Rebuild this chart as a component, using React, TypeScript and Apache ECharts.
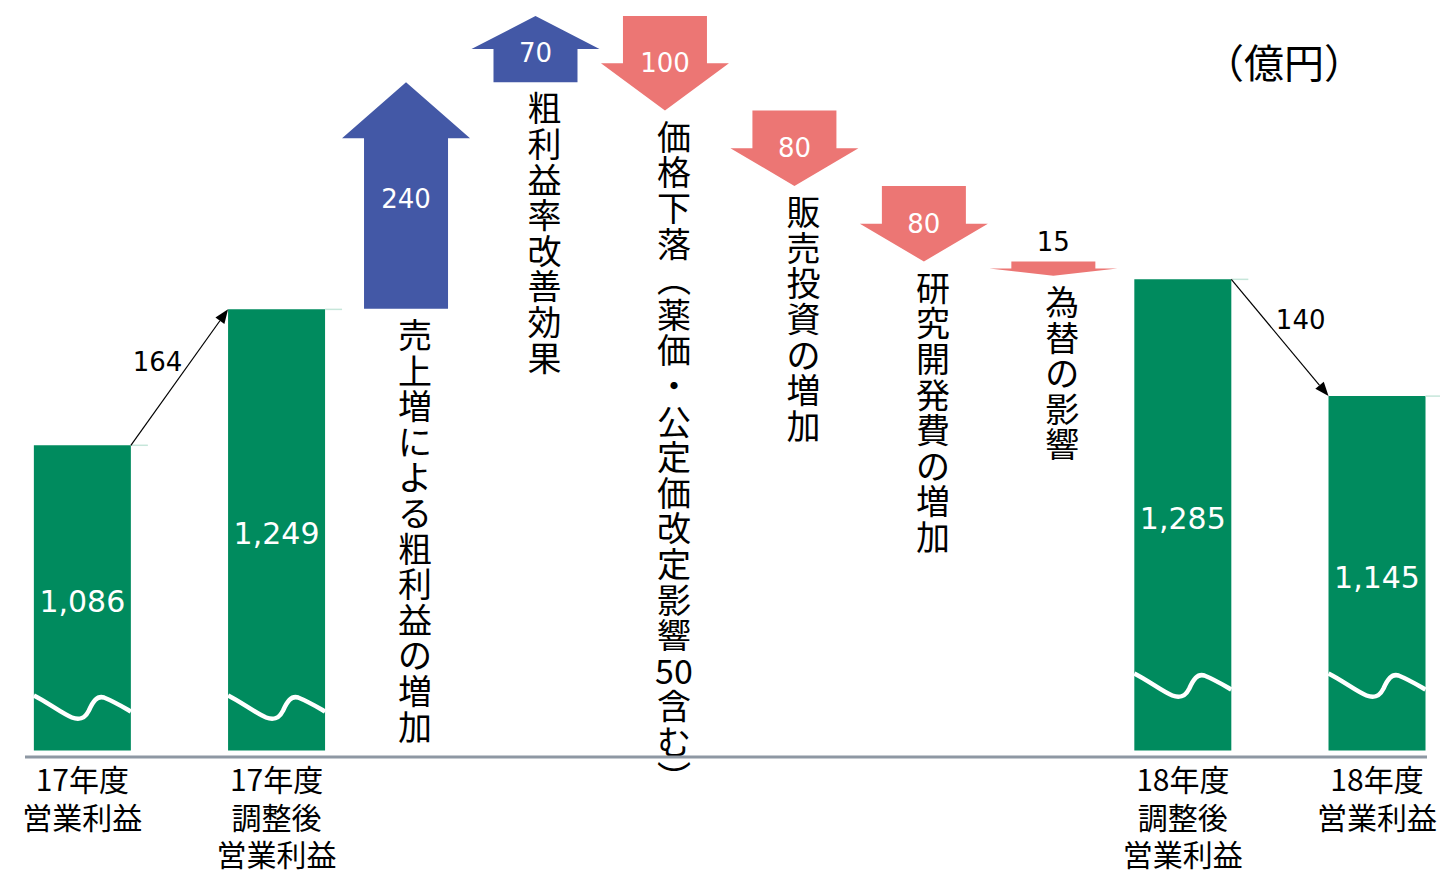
import React, { useEffect, useRef } from "react";
import * as echarts from "echarts";

// ---- data ----
const categories = [
  "17年度\n営業利益", "", "", "17年度\n調整後\n営業利益", "",
  "売上増による粗利益の増加", "", "粗利益率改善効果", "",
  "価格下落（薬価・公定価改定影響50含む）", "",
  "販売投資の増加", "", "研究開発費の増加", "", "為替の影響", "",
  "18年度\n調整後\n営業利益", "", "", "18年度\n営業利益",
];
const barNames = ["17年度\n営業利益", "17年度\n調整後\n営業利益", "18年度\n調整後\n営業利益", "18年度\n営業利益"];
const barValues = [1086, 1249, 1285, 1145];
const stepNames = [
  "売上増による粗利益の増加",
  "粗利益率改善効果",
  "価格下落（薬価・公定価改定影響50含む）",
  "販売投資の増加",
  "研究開発費の増加",
  "為替の影響",
];
const stepValues = [240, 70, -100, -80, -80, -15];
const bridgeValues = [164, 140]; // bar0 -> bar1, bar2 -> bar3
const unitLabel = "（億円）";

const GREEN = "#008B5E";
const BLUE = "#4358A6";
const RED = "#EC7674";
const CJK = '"Noto Sans CJK JP", "Noto Sans", sans-serif';
const NUM = '"DejaVu Sans", Verdana, sans-serif';
const Y_MIN = 720;

function toVertical(s: string) {
  const tokens = s.match(/[0-9]+|./gu) || [];
  return tokens
    .map((t) => (t === "（" ? "︵" : t === "）" ? "︶" : t))
    .join("\n");
}

export default function App() {
  const ref = useRef<HTMLDivElement>(null);
  useEffect(() => {
    if (!ref.current) return;
    const chart = echarts.init(ref.current, null, { renderer: "svg" });

    const barIdx = barNames.map((n) => categories.indexOf(n));

    // arrow chain
    const arrowData: number[][] = [];
    let cur = barValues[1];
    stepNames.forEach((n, i) => {
      const next = cur + stepValues[i];
      arrowData.push([categories.indexOf(n), cur, next, stepValues[i], i]);
      cur = next;
    });

    const barData = barValues.map((v, i) => [barIdx[i], v, i]);
    const bridgeData = [
      [barIdx[0], barIdx[1], barValues[0], barValues[1], bridgeValues[0]],
      [barIdx[2], barIdx[3], barValues[2], barValues[3], bridgeValues[1]],
    ];

    const BAR_W = 97;

    const option: any = {
      animation: false,
      grid: { left: 50, right: 30, top: 0, bottom: 116 },
      xAxis: {
        type: "category",
        data: categories,
        axisLine: { show: false },
        axisTick: { show: false },
        axisLabel: {
          interval: 0,
          margin: 9,
          fontSize: 30,
          lineHeight: 37.5,
          color: "#000",
          fontFamily: CJK,
          formatter: (v: string) => (barNames.includes(v) ? v : ""),
        },
      },
      yAxis: [
        { type: "value", min: Y_MIN, max: 1620, show: false },
        { type: "value", min: 781, max: 1576, show: false },
      ],
      series: [
        {
          type: "custom",
          yAxisIndex: 0,
          silent: true,
          clip: false,
          z: 5,
          data: barData,
          encode: { x: 0, y: 1 },
          renderItem: (params: any, api: any) => {
            const idx = api.value(0);
            const v = api.value(1);
            const order = api.value(2);
            const top = api.coord([idx, v]);
            const base = api.coord([idx, Y_MIN]);
            const L = top[0] - BAR_W / 2;
            const B = base[1] - (order >= 2 ? 22 : 0);
            const P = (x: number, y: number) => `${(L + x).toFixed(1)} ${(B + y).toFixed(1)}`;
            const d =
              `M ${P(0, -55)} C ${P(14, -48)} ${P(28, -37)} ${P(38, -33)} ` +
              `C ${P(46, -30)} ${P(51, -32)} ${P(55, -40)} ` +
              `C ${P(59, -49)} ${P(63, -55)} ${P(70, -53)} ` +
              `C ${P(80, -49)} ${P(90, -43)} ${P(97, -39)}`;
            return {
              type: "group",
              children: [
                {
                  type: "rect",
                  shape: { x: L, y: top[1], width: BAR_W, height: base[1] - top[1] },
                  style: { fill: GREEN },
                },
                {
                  type: "path",
                  shape: { pathData: d },
                  style: { stroke: "#fff", lineWidth: 4.5, fill: "none" },
                },
                {
                  type: "line",
                  shape: { x1: L + BAR_W, y1: top[1], x2: L + BAR_W + 17, y2: top[1] },
                  style: { stroke: "#c6e6da", lineWidth: 1.5 },
                },
                {
                  type: "text",
                  style: {
                    text: Number(v).toLocaleString("en-US"),
                    x: top[0],
                    y: (top[1] + base[1]) / 2 + 4,
                    align: "center",
                    verticalAlign: "middle",
                    fontSize: 30,
                    fontFamily: NUM,
                    fill: "#fff",
                  },
                },
              ],
            };
          },
        },
        {
          type: "custom",
          yAxisIndex: 0,
          silent: true,
          clip: false,
          z: 6,
          data: bridgeData,
          encode: { x: [0, 1], y: [2, 3] },
          renderItem: (params: any, api: any) => {
            const i0 = api.value(0);
            const i1 = api.value(1);
            const v0 = api.value(2);
            const v1 = api.value(3);
            const lbl = api.value(4);
            const a = api.coord([i0, v0]);
            const b = api.coord([i1, v1]);
            const x0 = a[0] + BAR_W / 2;
            const y0 = a[1];
            const x1 = b[0] - BAR_W / 2;
            const y1 = b[1];
            const dx = x1 - x0;
            const dy = y1 - y0;
            const len = Math.sqrt(dx * dx + dy * dy);
            const ux = dx / len;
            const uy = dy / len;
            const hl = 14;
            const hw = 5.5;
            const bx = x1 - ux * hl;
            const by = y1 - uy * hl;
            let nx = uy;
            let ny = -ux;
            if (ny > 0) {
              nx = -nx;
              ny = -ny;
            }
            const mx = (x0 + x1) / 2 + nx * 27;
            const my = (y0 + y1) / 2 + ny * 27;
            return {
              type: "group",
              children: [
                {
                  type: "line",
                  shape: { x1: x0, y1: y0, x2: bx, y2: by },
                  style: { stroke: "#000", lineWidth: 1.2 },
                },
                {
                  type: "polygon",
                  shape: {
                    points: [
                      [x1, y1],
                      [bx - uy * hw, by + ux * hw],
                      [bx + uy * hw, by - ux * hw],
                    ],
                  },
                  style: { fill: "#000" },
                },
                {
                  type: "text",
                  style: {
                    text: String(lbl),
                    x: mx,
                    y: my,
                    align: "center",
                    verticalAlign: "middle",
                    fontSize: 26,
                    fontFamily: NUM,
                    fill: "#000",
                  },
                },
              ],
            };
          },
        },
        {
          type: "custom",
          yAxisIndex: 1,
          silent: true,
          clip: false,
          z: 4,
          data: arrowData,
          encode: { x: 0, y: [1, 2] },
          renderItem: (params: any, api: any) => {
            const idx = api.value(0);
            const s = api.value(1);
            const e = api.value(2);
            const delta = api.value(3);
            const k = api.value(4);
            const p0 = api.coord([idx, s]);
            const p1 = api.coord([idx, e]);
            const cx = p0[0];
            const y0 = p0[1];
            const y1 = p1[1];
            const up = y1 < y0;
            const total = Math.abs(y1 - y0);
            const head = Math.min(total * 0.5, 56);
            const hb = up ? y1 + head : y1 - head;
            const bh = 42;
            const hh = 64;
            const pts = [
              [cx - bh, y0],
              [cx - bh, hb],
              [cx - hh, hb],
              [cx, y1],
              [cx + hh, hb],
              [cx + bh, hb],
              [cx + bh, y0],
            ];
            const big = total > 40;
            const numY = big ? (y0 + y1) / 2 + (up ? 4 : 0) : Math.min(y0, y1) - 19;
            const lowEdge = Math.max(y0, y1);
            return {
              type: "group",
              children: [
                {
                  type: "polygon",
                  shape: { points: pts },
                  style: { fill: up ? BLUE : RED },
                },
                {
                  type: "text",
                  style: {
                    text: String(Math.abs(delta)),
                    x: cx,
                    y: numY,
                    align: "center",
                    verticalAlign: "middle",
                    fontSize: 26,
                    fontFamily: NUM,
                    fill: big ? "#fff" : "#000",
                  },
                },
                {
                  type: "text",
                  style: {
                    text: toVertical(stepNames[k]),
                    x: cx + 9,
                    y: lowEdge + 7,
                    align: "center",
                    verticalAlign: "top",
                    fontSize: 34,
                    lineHeight: 35.6,
                    fontFamily: CJK,
                    fill: "#000",
                  },
                },
              ],
            };
          },
        },
      ],
      graphic: [
        {
          type: "line",
          shape: { x1: 25, y1: 757, x2: 1427, y2: 757 },
          style: { stroke: "#8E98A3", lineWidth: 3 },
          z: 10,
        },
        {
          type: "text",
          left: 1204,
          top: 41,
          style: { text: unitLabel, fontSize: 40, fontFamily: CJK, fill: "#000" },
        },
      ],
    };

    chart.setOption(option);
    return () => chart.dispose();
  }, []);

  return (
    <div
      ref={ref}
      style={{ position: "absolute", left: 0, top: 0, width: 1440, height: 872, background: "#fff" }}
    />
  );
}
